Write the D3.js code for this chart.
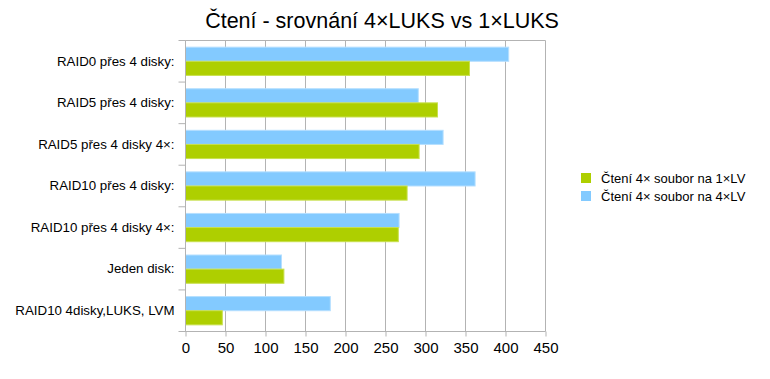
<!DOCTYPE html>
<html><head><meta charset="utf-8">
<script src="https://cdn.jsdelivr.net/npm/d3@7"></script>
<style>body{margin:0;background:#fff}svg{display:block}text{font-family:"Liberation Sans",Arial,sans-serif;fill:#000}</style>
</head><body><svg id="c" width="770" height="379"></svg>
<script>
const categories = ["RAID0 přes 4 disky:","RAID5 přes 4 disky:","RAID5 přes 4 disky 4×:","RAID10 přes 4 disky:","RAID10 přes 4 disky 4×:","Jeden disk:","RAID10 4disky,LUKS, LVM"];
const seriesNames = ["Čtení 4× soubor na 4×LV","Čtení 4× soubor na 1×LV"];
const values4LV = [404, 291, 322, 362, 267, 120, 181];
const values1LV = [355, 315, 292, 277, 266, 123, 46];
const xTicks = [0,50,100,150,200,250,300,350,400,450];
const colors = ["#83caff","#aecf00"];
const borders = ["#b5dfff","#c8e04d"];
const title = "Čtení - srovnání 4×LUKS vs 1×LUKS";

const svg = d3.select("#c");
const m = {l:185.5, r:545.5, t:40.5, b:331.5};
const x = d3.scaleLinear().domain([0,450]).range([m.l, m.r]);
const y = d3.scaleBand().domain(categories).range([m.t, m.b]).paddingInner(0.32).paddingOuter(0.16);
const ys = d3.scaleBand().domain([0,1]).range([0, y.bandwidth()]);

// grid
svg.append("g").selectAll("line").data(xTicks).join("line")
  .attr("x1",d=>x(d)).attr("x2",d=>x(d)).attr("y1",m.t).attr("y2",m.b)
  .attr("stroke","#b3b3b3").attr("stroke-width",1);
svg.append("line").attr("x1",m.l).attr("x2",m.r).attr("y1",m.t).attr("y2",m.t).attr("stroke","#b3b3b3");

// bars
const series = [values4LV, values1LV];
series.forEach((vals, si) => {
  svg.append("g").selectAll("rect").data(vals).join("rect")
    .attr("x", x(0))
    .attr("y", (d,i)=> y(categories[i]) + ys(si))
    .attr("width", d => x(d)-x(0))
    .attr("height", ys.bandwidth())
    .attr("fill", colors[si])
    .attr("stroke", borders[si]).attr("stroke-width",1);
});

// x axis
const xAxis = d3.axisBottom(x).tickValues(xTicks).tickSize(5).tickPadding(6);
const gx = svg.append("g").attr("transform",`translate(0,${m.b})`).call(xAxis);
gx.select(".domain").attr("stroke","#b3b3b3").attr("d",`M${m.l},0H${m.r}`);
gx.selectAll(".tick line").attr("stroke","#b3b3b3");
gx.selectAll(".tick text").attr("font-size","15px").attr("font-family","Liberation Sans, Arial, sans-serif").attr("fill","#000");

// y axis
const yAxis = d3.axisLeft(y).tickSize(0).tickPadding(11);
const gy = svg.append("g").attr("transform",`translate(${m.l},0)`).call(yAxis);
gy.select(".domain").attr("stroke","#b3b3b3").attr("d",`M0,${m.t}V${m.b}`);
gy.selectAll(".tick text").attr("font-size","13.3px").attr("font-family","Liberation Sans, Arial, sans-serif").attr("fill","#000");
// band boundary ticks
const step = (m.b-m.t)/categories.length;
svg.append("g").selectAll("line").data(d3.range(categories.length+1)).join("line")
  .attr("x1",m.l-7).attr("x2",m.l).attr("y1",i=>m.t+i*step).attr("y2",i=>m.t+i*step)
  .attr("stroke","#b3b3b3");

// title
svg.append("text").attr("x",382).attr("y",28).attr("text-anchor","middle")
  .attr("font-size","21.5px").text(title);

// legend
const leg = [{n:seriesNames[1],c:colors[1]},{n:seriesNames[0],c:colors[0]}];
const lg = svg.append("g").selectAll("g").data(leg).join("g")
  .attr("transform",(d,i)=>`translate(581,${173+i*18})`);
lg.append("rect").attr("width",10).attr("height",10).attr("fill",d=>d.c);
lg.append("text").attr("x",20).attr("y",9.5).attr("font-size","13px").text(d=>d.n);
</script></body></html>
